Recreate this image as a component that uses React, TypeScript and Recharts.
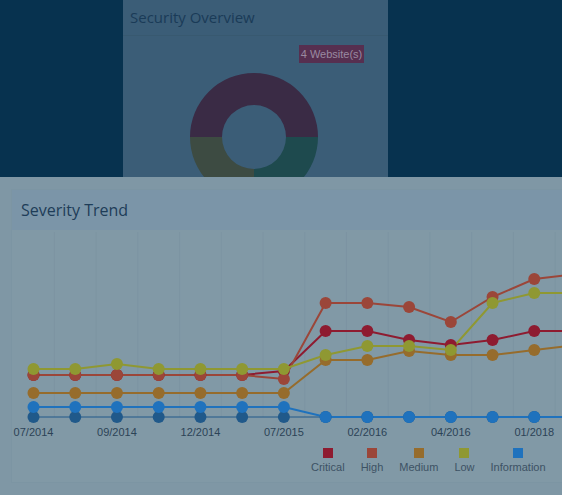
import React from 'react';
import { LineChart, Line, XAxis, YAxis, CartesianGrid, PieChart, Pie, Cell } from 'recharts';

// severity trend, one value per scan date
const months = [
  '07/2014', '08/2014', '09/2014', '10/2014', '12/2014', '03/2015', '07/2015',
  '11/2015', '02/2016', '03/2016', '04/2016', '06/2016', '01/2018', '03/2018',
];
const critical = [42, 42, 42, 42, 42, 42, 46, 86, 86, 77, 72, 77, 86, 86];
const high = [42, 42, 42, 42, 42, 42, 38, 114, 114, 110, 95, 120, 138, 143];
const medium = [24, 24, 24, 24, 24, 24, 24, 57, 57, 66, 62, 62, 67, 72];
const low = [48, 48, 53, 48, 48, 48, 48, 62, 71, 71, 67, 114, 124, 124];
const information = [10, 10, 10, 10, 10, 10, 10, 0, 0, 0, 0, 0, 0, 0];
const bestPractice = [0, 0, 0, 0, 0, 0, 0, 0, 0, 0, 0, 0, 0, 0];

// donut in the overview panel
const siteGroups = ['Vulnerable', 'Secure', 'Warning'];
const siteCounts = [2, 1, 1];
const siteColors = ['#3a2b45', '#1e4a4e', '#3d4b42'];

const series = [
  { key: 'bestPractice', name: 'Best Practice', color: '#20598a', width: 1 },
  { key: 'information', name: 'Information', color: '#1f72bd', width: 2 },
  { key: 'critical', name: 'Critical', color: '#8e1b30', width: 2 },
  { key: 'high', name: 'High', color: '#9b4639', width: 2 },
  { key: 'medium', name: 'Medium', color: '#966c2c', width: 2 },
  { key: 'low', name: 'Low', color: '#8f9832', width: 2 },
];
// only these fit on screen
const legendOrder = ['critical', 'high', 'medium', 'low', 'information'];

const trendData = months.map((month, i) => ({
  month,
  critical: critical[i],
  high: high[i],
  medium: medium[i],
  low: low[i],
  information: information[i],
  bestPractice: bestPractice[i],
}));

const donutData = siteGroups.map((name, i) => ({ name, value: siteCounts[i] }));

const openSans = '"Open Sans", "Noto Sans", sans-serif';
const arial = '"Liberation Sans", Arial, sans-serif';

export default function App() {
  // grid lines fall between the scan dates
  const midLines = ({ offset }: any) => {
    const step = offset.width / (months.length - 1);
    return months.slice(1).map((_, i) => offset.left + (i + 0.5) * step);
  };

  return (
    <div style={{ position: 'fixed', left: 0, top: 0, width: 562, height: 495, overflow: 'hidden', background: '#07324f' }}>
      {/* overview panel */}
      <div style={{ position: 'absolute', left: 123, top: 0, width: 265, height: 177, background: '#3b5d77' }}>
        <div style={{ height: 36, borderBottom: '1px solid #385970', boxSizing: 'border-box', paddingLeft: 7, fontFamily: openSans, fontSize: 15, lineHeight: '34px', color: '#1a3b57' }}>
          Security Overview
        </div>
        <div style={{ position: 'absolute', left: 176, top: 45, width: 65, height: 18, background: '#562f50', color: '#9a8aa0', fontFamily: arial, fontSize: 11, lineHeight: '18px', textAlign: 'center' }}>
          4 Website(s)
        </div>
        <div style={{ position: 'absolute', left: 61, top: 67 }}>
          <PieChart width={140} height={140} margin={{ top: 0, right: 0, bottom: 0, left: 0 }}>
            <Pie
              data={donutData}
              dataKey="value"
              cx={70}
              cy={70}
              innerRadius={32}
              outerRadius={64}
              startAngle={180}
              endAngle={-180}
              stroke="none"
              isAnimationActive={false}
            >
              {donutData.map((d, i) => (
                <Cell key={d.name} fill={siteColors[i]} />
              ))}
            </Pie>
          </PieChart>
        </div>
      </div>

      {/* lower area */}
      <div style={{ position: 'absolute', left: 0, top: 177, width: 562, height: 318, background: '#7f97a5' }}>
        <div style={{ position: 'absolute', left: 11, top: 12, width: 600, height: 292, background: '#8199a6', border: '1px solid #7c95a3' }}>
          <div style={{ height: 40, background: '#7b95a8', paddingLeft: 9, fontFamily: openSans, fontSize: 16, lineHeight: '40px', color: '#1e3d58' }}>
            Severity Trend
          </div>
        </div>
      </div>

      <div style={{ position: 'absolute', left: 0, top: 230 }}>
        <LineChart width={600} height={215} data={trendData} margin={{ top: 2, right: 24, bottom: 0, left: 33.5 }}>
          <CartesianGrid horizontal={false} stroke="#7c94a2" verticalCoordinatesGenerator={midLines} />
          <XAxis
            dataKey="month"
            interval={1}
            axisLine={false}
            tickLine={false}
            height={28}
            tickMargin={5}
            tick={{ fill: '#2c4356', fontSize: 11, fontFamily: arial }}
          />
          <YAxis hide domain={[0, 185]} />
          {series.map((s) => (
            <Line
              key={s.key}
              dataKey={s.key}
              name={s.name}
              type="linear"
              stroke={s.color}
              strokeWidth={s.width}
              dot={{ r: 6, fill: s.color, stroke: s.color, strokeWidth: 0 }}
              activeDot={false}
              isAnimationActive={false}
            />
          ))}
        </LineChart>
      </div>

      {/* legend */}
      <div style={{ position: 'absolute', left: 311, top: 448, display: 'flex', gap: 16, fontFamily: arial, fontSize: 11, color: '#3d5264', whiteSpace: 'nowrap' }}>
        {legendOrder.map((key) => {
          const s = series.find((x) => x.key === key)!;
          return (
            <div key={key} style={{ display: 'flex', flexDirection: 'column', alignItems: 'center' }}>
              <div style={{ width: 10, height: 10, background: s.color }} />
              <div style={{ marginTop: 3, lineHeight: '13px' }}>{s.name}</div>
            </div>
          );
        })}
      </div>
    </div>
  );
}
